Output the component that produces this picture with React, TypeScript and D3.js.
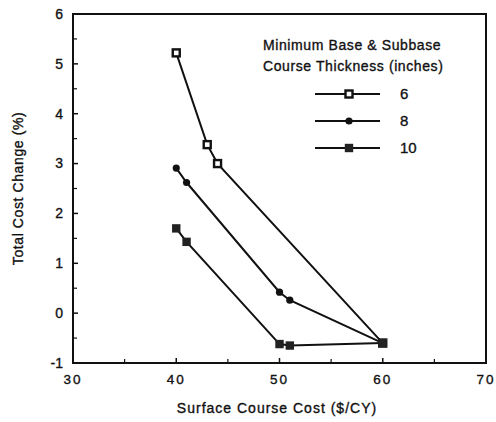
import React from "react";
import * as d3 from "d3";

const xTickValues = [30, 40, 50, 60, 70];
const yTickValues = [-1, 0, 1, 2, 3, 4, 5, 6];
const series6X = [40, 43, 44, 60];
const series6Y = [5.22, 3.38, 3.0, -0.6];
const series8X = [40, 41, 50, 51, 60];
const series8Y = [2.91, 2.62, 0.42, 0.26, -0.6];
const series10X = [40, 41, 50, 51, 60];
const series10Y = [1.7, 1.43, -0.62, -0.65, -0.6];
const legendLabels = ["6", "8", "10"];
const legendTitle = ["Minimum Base & Subbase", "Course Thickness (inches)"];
const xTitle = "Surface Course Cost ($/CY)";
const yTitle = "Total Cost Change (%)";

const W = 496, H = 422;
const M = { left: 73, top: 14, right: 486, bottom: 363 };
const font = "'Liberation Sans', Arial, Helvetica, sans-serif";
const textStyle = { stroke: "#111", strokeWidth: 0.35 };

export default function App() {
  const x = d3.scaleLinear().domain([30, 70]).range([M.left, M.right]);
  const y = d3.scaleLinear().domain([-1, 6]).range([M.bottom, M.top]);
  const line = d3.line<[number, number]>().x(d => x(d[0])).y(d => y(d[1]));
  const zip = (a: number[], b: number[]) => a.map((v, i) => [v, b[i]] as [number, number]);
  const s6 = zip(series6X, series6Y);
  const s8 = zip(series8X, series8Y);
  const s10 = zip(series10X, series10Y);

  const minorY = d3.range(-0.5, 6, 1);
  const minorX = [35, 45, 55, 65];

  const marker = (kind: number, cx: number, cy: number, key: string) => {
    if (kind === 0)
      return <rect key={key} x={cx - 3.5} y={cy - 3.5} width={7} height={7} fill="#fff" stroke="#111" strokeWidth={2.4} />;
    if (kind === 1)
      return <circle key={key} cx={cx} cy={cy} r={3.6} fill="#111" />;
    return <rect key={key} x={cx - 4.2} y={cy - 4.2} width={8.4} height={8.4} fill="#222" />;
  };

  const all = [s6, s8, s10];
  const legendY = [94, 121, 148];

  return (
    <svg width={W} height={H} style={{ position: "absolute", left: 0, top: 0, background: "#fff" }}>
      <rect x={0} y={0} width={W} height={H} fill="#fff" />
      <rect x={M.left} y={M.top} width={M.right - M.left} height={M.bottom - M.top} fill="none" stroke="#111" strokeWidth={2} />
      {yTickValues.map(v => (
        <g key={"yt" + v}>
          <line x1={M.left} x2={M.left + 5} y1={y(v)} y2={y(v)} stroke="#111" strokeWidth={1.5} />
          <text x={M.left - 10} y={y(v)} dy="0.35em" textAnchor="end" fontFamily={font} fontSize={14} fill="#111" style={textStyle}>{v}</text>
        </g>
      ))}
      {minorY.map(v => (
        <line key={"ym" + v} x1={M.left} x2={M.left + 4} y1={y(v)} y2={y(v)} stroke="#111" strokeWidth={1.2} />
      ))}
      {xTickValues.map(v => (
        <g key={"xt" + v}>
          <line x1={x(v)} x2={x(v)} y1={M.bottom} y2={M.bottom - 5} stroke="#111" strokeWidth={1.5} />
          <text x={x(v)} y={M.bottom + 21} textAnchor="middle" fontFamily={font} fontSize={13.5} letterSpacing={2} fill="#111" style={textStyle}>{v}</text>
        </g>
      ))}
      {minorX.map(v => (
        <line key={"xm" + v} x1={x(v)} x2={x(v)} y1={M.bottom} y2={M.bottom - 4} stroke="#111" strokeWidth={1.2} />
      ))}
      {all.map((s, i) => (
        <path key={"l" + i} d={line(s) || ""} fill="none" stroke="#111" strokeWidth={2} />
      ))}
      {all.map((s, i) => s.map((p, j) => marker(i, x(p[0]), y(p[1]), `m${i}-${j}`)))}
      {legendTitle.map((t, i) => (
        <text key={"lt" + i} x={263} y={50 + i * 21} fontFamily={font} fontSize={14} letterSpacing={0.6} fill="#111" style={textStyle}>{t}</text>
      ))}
      {legendLabels.map((lab, i) => (
        <g key={"lg" + i}>
          <line x1={315} x2={380} y1={legendY[i]} y2={legendY[i]} stroke="#111" strokeWidth={2} />
          {marker(i, 349, legendY[i], "lm" + i)}
          <text x={400} y={legendY[i]} dy="0.35em" fontFamily={font} fontSize={15} fill="#111" style={textStyle}>{lab}</text>
        </g>
      ))}
      <text x={(176 + 378) / 2} y={413} textAnchor="middle" fontFamily={font} fontSize={14} letterSpacing={1} fill="#111" style={textStyle}>{xTitle}</text>
      <text transform={`translate(23,${(110 + 267) / 2}) rotate(-90)`} textAnchor="middle" fontFamily={font} fontSize={14} letterSpacing={0.6} fill="#111" style={textStyle}>{yTitle}</text>
    </svg>
  );
}
